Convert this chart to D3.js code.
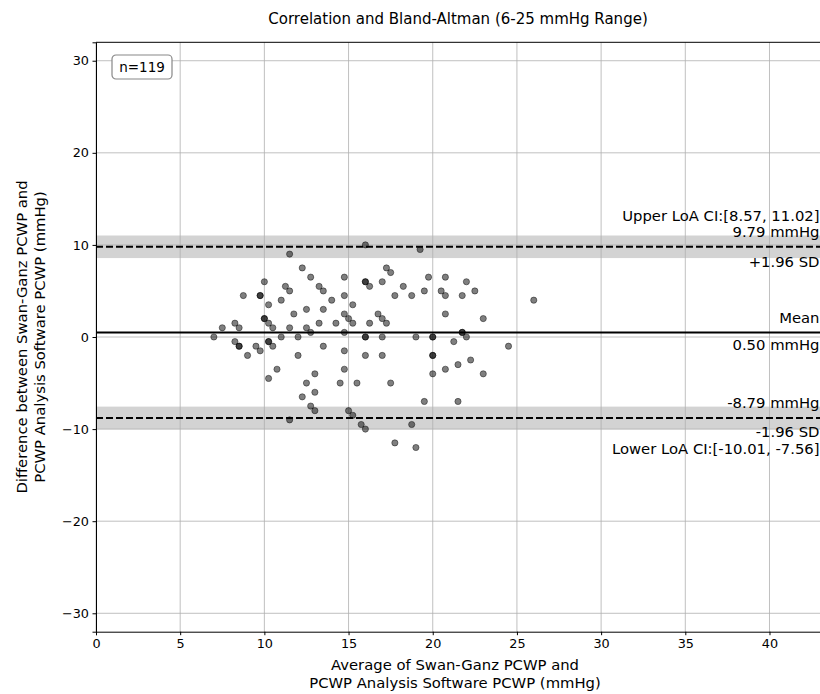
<!DOCTYPE html>
<html>
<head>
<meta charset="utf-8">
<script src="https://cdn.jsdelivr.net/npm/d3@7"></script>
<style>
  body { margin: 0; background: #fff; }
  text { font-family: "DejaVu Sans", sans-serif; fill: #000; }
</style>
</head>
<body>
<svg id="chart"></svg>
<script>
// mean of the two methods (x) and their difference (y)
var avgVals = [
  11.5, 10, 8.75, 9.75, 9.75, 11.25, 11.5, 10.25, 11, 10, 10, 10.25, 10.5, 11.5, 7.5, 8.25,
  8.5, 7, 11, 8.25, 8.5, 8.5, 9, 9.5, 9.75, 10.25, 10.25, 10.5, 10.75, 10.25, 11.5,
  16, 12.25, 12.75, 14.75, 16, 16, 16.25, 13.25, 13.5, 14.75, 14, 15.25, 11.75, 12.5, 13.5,
  14.75, 15, 15.25, 16.25, 14.25, 13.25, 12.5, 12.75, 14.75, 12, 16, 16, 13.5, 14.75, 12, 16,
  14.75, 13, 12.5, 14.5, 15.5, 13, 12.25, 12.75, 13, 15, 15.25, 15.75, 16,
  19.25, 17.25, 17.5, 17, 18.25, 19.75, 20.75, 17.75, 18.75, 19.5, 20.5, 20.75, 20.75, 16.75,
  17, 17.25, 17, 19, 20, 20, 21.25, 17, 20, 20, 20, 20.75, 21.5, 17.5, 19.5, 21.5, 18.75,
  17.75, 19,
  22, 22.5, 21.75, 26, 23, 21.75, 21.75, 22, 24.5, 22.25, 23
];
var diffVals = [
  9, 6, 4.5, 4.5, 4.5, 5.5, 5, 3.5, 4, 2, 2, 1.5, 1, 1, 1, 1.5,
  1, 0, 0, -0.5, -1, -1, -2, -1, -1.5, -0.5, -0.5, -1, -3.5, -4.5, -9,
  10, 7.5, 6.5, 6.5, 6, 6, 5.5, 5.5, 5, 4.5, 4, 3.5, 2.5, 3, 3,
  2.5, 2, 1.5, 1.5, 1.5, 1.5, 1, 0.5, 0.5, 0, 0, 0, -1, -1.5, -2, -2,
  -3.5, -4, -5, -5, -5, -6, -6.5, -7.5, -8, -8, -8.5, -9.5, -10,
  9.5, 7.5, 7, 6, 5.5, 6.5, 6.5, 4.5, 4.5, 5, 5, 4.5, 2.5, 2.5,
  2, 1.5, 0, 0, 0, 0, -0.5, -2, -2, -2, -4, -3.5, -3, -5, -7, -7, -9.5,
  -11.5, -12,
  6, 5, 4.5, 4, 2, 0.5, 0.5, 0, -1, -2.5, -4
];

var xTicks = [0, 5, 10, 15, 20, 25, 30, 35, 40];
var yTicks = [-30, -20, -10, 0, 10, 20, 30];

var meanDiff = 0.50;
var upperLoA = 9.79, lowerLoA = -8.79;
var upperCI = [8.57, 11.02];
var lowerCI = [-10.01, -7.56];

var W = 820, H = 694;
var plotL = 96, plotR = 820, plotT = 42.3, plotB = 631.7;

var svg = d3.select("#chart")
  .attr("width", W)
  .attr("height", H);

var x = d3.scaleLinear().domain([0, 43]).range([plotL, plotR]);
var y = d3.scaleLinear().domain([-32, 32]).range([plotB, plotT]);

svg.append("text")
  .attr("x", (plotL + plotR) / 2)
  .attr("y", 24)
  .attr("text-anchor", "middle")
  .style("font-size", "15px")
  .text("Correlation and Bland-Altman (6-25 mmHg Range)");

// CI bands for the limits of agreement
[upperCI, lowerCI].forEach(ci => {
  svg.append("rect")
    .attr("x", plotL)
    .attr("width", plotR - plotL)
    .attr("y", y(ci[1]))
    .attr("height", y(ci[0]) - y(ci[1]))
    .attr("fill", "#d3d3d3");
});

// grid
svg.append("g").selectAll("line")
  .data(xTicks).enter().append("line")
  .attr("x1", d => x(d)).attr("x2", d => x(d))
  .attr("y1", plotT).attr("y2", plotB)
  .attr("stroke", "#b0b0b0").attr("stroke-width", 0.8);
svg.append("g").selectAll("line")
  .data(yTicks).enter().append("line")
  .attr("x1", plotL).attr("x2", plotR)
  .attr("y1", d => y(d)).attr("y2", d => y(d))
  .attr("stroke", "#b0b0b0").attr("stroke-width", 0.8);

// mean and LoA lines
svg.append("line")
  .attr("x1", plotL).attr("x2", plotR)
  .attr("y1", y(meanDiff)).attr("y2", y(meanDiff))
  .attr("stroke", "#000").attr("stroke-width", 2);
[upperLoA, lowerLoA].forEach(v => {
  svg.append("line")
    .attr("x1", plotL).attr("x2", plotR)
    .attr("y1", y(v)).attr("y2", y(v))
    .attr("stroke", "#000").attr("stroke-width", 2)
    .attr("stroke-dasharray", "7,3");
});

// points
svg.append("g").selectAll("circle")
  .data(avgVals.map((a, i) => ({avg: a, diff: diffVals[i]})))
  .enter().append("circle")
    .attr("cx", d => x(d.avg))
    .attr("cy", d => y(d.diff))
    .attr("r", 3.1)
    .attr("fill", "#000")
    .attr("fill-opacity", 0.5)
    .attr("stroke", "#000")
    .attr("stroke-opacity", 0.55)
    .attr("stroke-width", 0.8);

// axes
var xAxis = svg.append("g")
  .attr("transform", "translate(0," + plotB + ")")
  .call(d3.axisBottom(x).tickValues(xTicks).tickSize(3.5).tickPadding(3.5));
var yAxis = svg.append("g")
  .attr("transform", "translate(" + plotL + ",0)")
  .call(d3.axisLeft(y).tickValues(yTicks).tickSize(3.5).tickPadding(3.5));
[xAxis, yAxis].forEach(g => {
  g.selectAll("text").style("font-size", "12.8px").attr("fill", "#000");
  g.select(".domain").attr("stroke", "#000").attr("stroke-width", 1);
  g.selectAll(".tick line").attr("stroke", "#000");
});
svg.append("line")
  .attr("x1", plotL).attr("x2", plotR)
  .attr("y1", plotT).attr("y2", plotT)
  .attr("stroke", "#000").attr("stroke-width", 1);

// annotations at the right edge
var ax = plotR - 0.5;
var notes = [
  ["Upper LoA CI:[" + upperCI[0].toFixed(2) + ", " + upperCI[1].toFixed(2) + "]", y(upperLoA) - 26],
  [upperLoA.toFixed(2) + " mmHg", y(upperLoA) - 10],
  ["+1.96 SD", y(upperLoA) + 20],
  ["Mean", y(meanDiff) - 9],
  [meanDiff.toFixed(2) + " mmHg", y(meanDiff) + 18],
  [lowerLoA.toFixed(2) + " mmHg", y(lowerLoA) - 9.5],
  ["-1.96 SD", y(lowerLoA) + 19],
  ["Lower LoA CI:[" + lowerCI[0].toFixed(2) + ", " + lowerCI[1].toFixed(2) + "]", y(lowerLoA) + 36]
];
svg.append("g").selectAll("text")
  .data(notes).enter().append("text")
    .attr("x", ax)
    .attr("y", d => d[1])
    .attr("text-anchor", "end")
    .style("font-size", "14.8px")
    .text(d => d[0]);

// n box
var nBox = svg.append("g").attr("transform", "translate(112,55)");
nBox.append("rect")
  .attr("width", 60).attr("height", 24)
  .attr("rx", 4).attr("ry", 4)
  .attr("fill", "#fff")
  .attr("stroke", "#888").attr("stroke-width", 1.2);
nBox.append("text")
  .attr("x", 30).attr("y", 17)
  .attr("text-anchor", "middle")
  .style("font-size", "13.5px")
  .text("n=" + avgVals.length);

// axis labels
var xl = svg.append("text")
  .attr("text-anchor", "middle")
  .style("font-size", "14.8px");
xl.append("tspan").attr("x", 455).attr("y", 670).text("Average of Swan-Ganz PCWP and");
xl.append("tspan").attr("x", 455).attr("y", 688).text("PCWP Analysis Software PCWP (mmHg)");

var yl = svg.append("text")
  .attr("transform", "rotate(-90)")
  .attr("text-anchor", "middle")
  .style("font-size", "14.8px");
yl.append("tspan").attr("x", -337).attr("y", 27).text("Difference between Swan-Ganz PCWP and");
yl.append("tspan").attr("x", -337).attr("y", 45).text("PCWP Analysis Software PCWP (mmHg)");
</script>
</body>
</html>
